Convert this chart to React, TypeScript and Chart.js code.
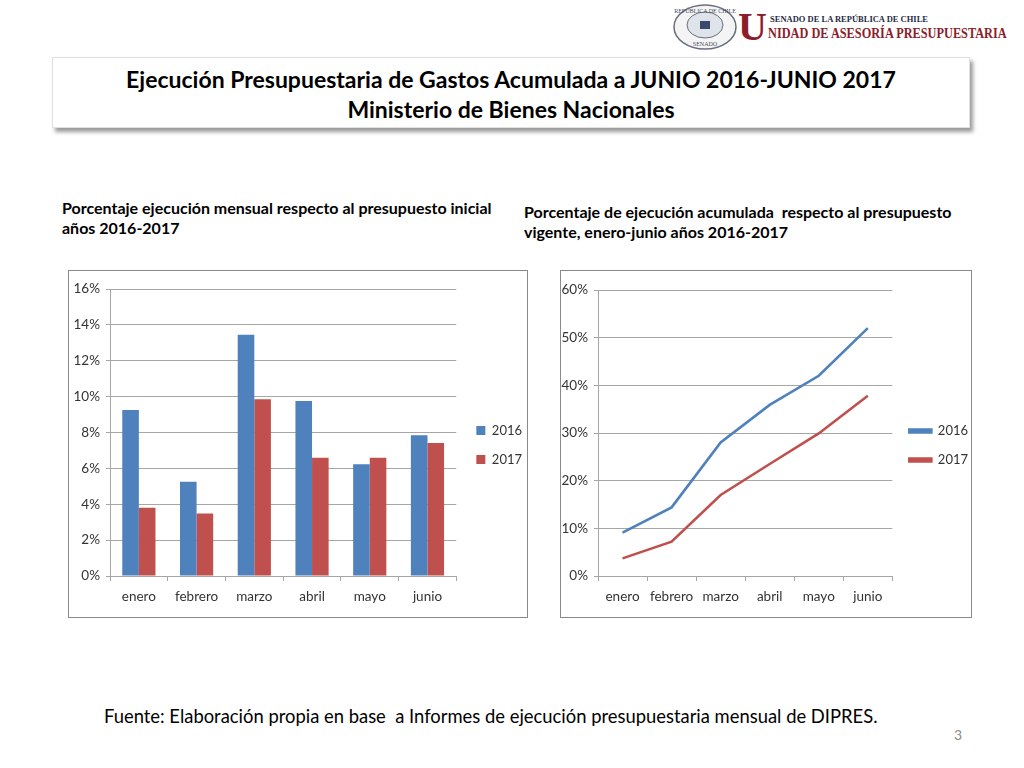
import React, { useEffect, useRef } from "react";
import { Chart, registerables } from "chart.js";

Chart.register(...registerables);

const months = ["enero", "febrero", "marzo", "abril", "mayo", "junio"];
const seriesNames = ["2016", "2017"];
const monthly2016 = [9.25, 5.26, 13.45, 9.76, 6.23, 7.84];
const monthly2017 = [3.8, 3.49, 9.85, 6.59, 6.59, 7.41];
const cumulative2016 = [9.1, 14.4, 28.0, 35.9, 42.0, 52.0];
const cumulative2017 = [3.7, 7.2, 17.0, 23.5, 29.9, 37.8];
const blue = "#4F81BD";
const red = "#C0504D";

const chartFont = "Lato, 'Open Sans', sans-serif";
const textFont = "Lato, 'Open Sans', sans-serif";

function ChartCanvas({ config, style }: { config: any; style: React.CSSProperties }) {
  const ref = useRef<HTMLCanvasElement | null>(null);
  useEffect(() => {
    if (!ref.current) return;
    const c = new Chart(ref.current, config);
    return () => c.destroy();
  }, []);
  return (
    <div style={{ position: "absolute", ...style }}>
      <canvas ref={ref} />
    </div>
  );
}

const legendShift = (dx: number, dy: number) => ({
  id: "legendShift",
  afterLayout(chart: any) {
    const l = chart.legend;
    if (!l) return;
    l.top += dy;
    l.bottom += dy;
    l.left += dx;
    l.right += dx;
  },
});

const gridColor = "#a6a6a6";
const tickColor = "#333333";

function baseOptions(max: number, step: number, legendBox: { w: number; h: number }, yWidth: number, top: number) {
  return {
    responsive: true,
    maintainAspectRatio: false,
    animation: false,
    layout: { padding: { top, left: 0, right: 0, bottom: 0 } },
    plugins: {
      tooltip: { enabled: false },
      legend: {
        position: "right",
        align: "center",
        labels: {
          boxWidth: legendBox.w,
          boxHeight: legendBox.h,
          padding: 16,
          color: tickColor,
          font: { family: chartFont, size: 13 },
        },
      },
    },
    scales: {
      x: {
        offset: true,
        afterFit: (s: any) => {
          s.height = 41;
        },
        grid: {
          display: true,
          offset: true,
          drawOnChartArea: false,
          drawTicks: true,
          tickLength: 5,
          color: gridColor,
        },
        border: { display: true, color: gridColor },
        ticks: {
          color: tickColor,
          font: { family: chartFont, size: 13.5 },
          padding: 8,
          maxRotation: 0,
          minRotation: 0,
          autoSkip: false,
        },
      },
      y: {
        min: 0,
        max,
        afterFit: (s: any) => {
          s.width = yWidth;
        },
        grid: { color: gridColor, drawTicks: true, tickLength: 4 },
        border: { display: true, color: gridColor },
        ticks: {
          stepSize: step,
          color: tickColor,
          font: { family: chartFont, size: 13.5 },
          padding: 6,
          callback: (v: any) => v + "%",
        },
      },
    },
  };
}

const barConfig = {
  type: "bar",
  data: {
    labels: months,
    datasets: [
      { label: seriesNames[0], data: monthly2016, backgroundColor: blue, borderWidth: 0 },
      { label: seriesNames[1], data: monthly2017, backgroundColor: red, borderWidth: 0 },
    ],
  },
  options: {
    ...baseOptions(16, 2, { w: 9, h: 9 }, 41, 18),
    datasets: { bar: { categoryPercentage: 0.575, barPercentage: 1 } },
  },
  plugins: [legendShift(4, -8)],
};

const lineConfig = {
  type: "line",
  data: {
    labels: months,
    datasets: [
      { label: seriesNames[0], data: cumulative2016, borderColor: blue, backgroundColor: blue, borderWidth: 2.6, pointRadius: 0, tension: 0 },
      { label: seriesNames[1], data: cumulative2017, borderColor: red, backgroundColor: red, borderWidth: 2.6, pointRadius: 0, tension: 0 },
    ],
  },
  options: baseOptions(60, 10, { w: 22, h: 3 }, 37, 19),
  plugins: [legendShift(1, -8)],
};

function Logo() {
  return (
    <div style={{ position: "absolute", left: 672, top: 3, width: 352, height: 50 }}>
      <svg width="66" height="48" style={{ position: "absolute", left: 0, top: 0 }}>
        <ellipse cx="33" cy="24" rx="31" ry="22" fill="#f4f4f4" stroke="#6a6f80" strokeWidth="1.5" />
        <ellipse cx="33" cy="22" rx="18" ry="13" fill="#dfe3ea" stroke="#6a6f80" strokeWidth="1" />
        <rect x="28" y="18" width="10" height="8" fill="#3b4a6b" />
        <text x="33" y="10" fontSize="6" textAnchor="middle" fill="#4a4f60" fontFamily="serif">REPÚBLICA DE CHILE</text>
        <text x="33" y="43" fontSize="6" textAnchor="middle" fill="#4a4f60" fontFamily="serif">SENADO</text>
      </svg>
      <div style={{ position: "absolute", left: 66, top: 4, fontFamily: "'Liberation Serif', serif", fontSize: 40, lineHeight: "40px", color: "#8c1d2a", fontWeight: "bold" }}>U</div>
      <div style={{ position: "absolute", left: 98, top: 11, fontFamily: "'Liberation Serif', serif", fontSize: 8.5, fontWeight: "bold", color: "#1f2a44", whiteSpace: "nowrap" }}>
        SENADO DE LA REPÚBLICA DE CHILE
      </div>
      <div
        style={{
          position: "absolute",
          left: 96,
          top: 22,
          fontFamily: "'Liberation Serif', serif",
          fontSize: 15,
          fontWeight: "bold",
          color: "#8c1d2a",
          whiteSpace: "nowrap",
          transform: "scaleX(0.82)",
          transformOrigin: "left top",
        }}
      >
        NIDAD DE ASESORÍA PRESUPUESTARIA
      </div>
    </div>
  );
}

export default function App() {
  return (
    <div style={{ position: "absolute", left: 0, top: 0, width: 1024, height: 768, background: "#fff", overflow: "hidden" }}>
      <Logo />
      <div
        style={{
          position: "absolute",
          left: 52,
          top: 57,
          width: 918,
          height: 71,
          border: "1px solid #e0e0e0",
          boxShadow: "3px 4px 4px #9a9a9a",
          background: "#fff",
          textAlign: "center",
          fontFamily: textFont,
          fontWeight: "bold",
          fontSize: 23,
          lineHeight: "30px",
          color: "#000",
          paddingTop: 6,
          boxSizing: "border-box",
        }}
      >
        <div>Ejecución Presupuestaria de Gastos Acumulada a JUNIO 2016-JUNIO 2017</div>
        <div>Ministerio de Bienes Nacionales</div>
      </div>
      <div style={{ position: "absolute", left: 62, top: 198, width: 460, fontFamily: textFont, fontWeight: "bold", fontSize: 16, lineHeight: "20px", color: "#000", whiteSpace: "pre" }}>
        {"Porcentaje ejecución mensual respecto al presupuesto inicial\naños 2016-2017"}
      </div>
      <div style={{ position: "absolute", left: 524, top: 202, width: 460, fontFamily: textFont, fontWeight: "bold", fontSize: 16, lineHeight: "20px", color: "#000", whiteSpace: "pre" }}>
        {"Porcentaje de ejecución acumulada  respecto al presupuesto\nvigente, enero-junio años 2016-2017"}
      </div>
      <div style={{ position: "absolute", left: 68, top: 270, width: 460, height: 348, border: "1px solid #8a8a8a", boxSizing: "border-box", background: "#fff" }} />
      <ChartCanvas config={barConfig} style={{ left: 69, top: 271, width: 459, height: 346 }} />
      <div style={{ position: "absolute", left: 560, top: 270, width: 412, height: 348, border: "1px solid #8a8a8a", boxSizing: "border-box", background: "#fff" }} />
      <ChartCanvas config={lineConfig} style={{ left: 561, top: 271, width: 416, height: 346 }} />
      <div style={{ position: "absolute", left: 104, top: 705, fontFamily: textFont, fontSize: 18.4, color: "#000", whiteSpace: "pre" }}>
        {"Fuente: Elaboración propia en base  a Informes de ejecución presupuestaria mensual de DIPRES."}
      </div>
      <div style={{ position: "absolute", left: 954, top: 726, fontFamily: textFont, fontSize: 14, color: "#8a8a8a" }}>3</div>
    </div>
  );
}
